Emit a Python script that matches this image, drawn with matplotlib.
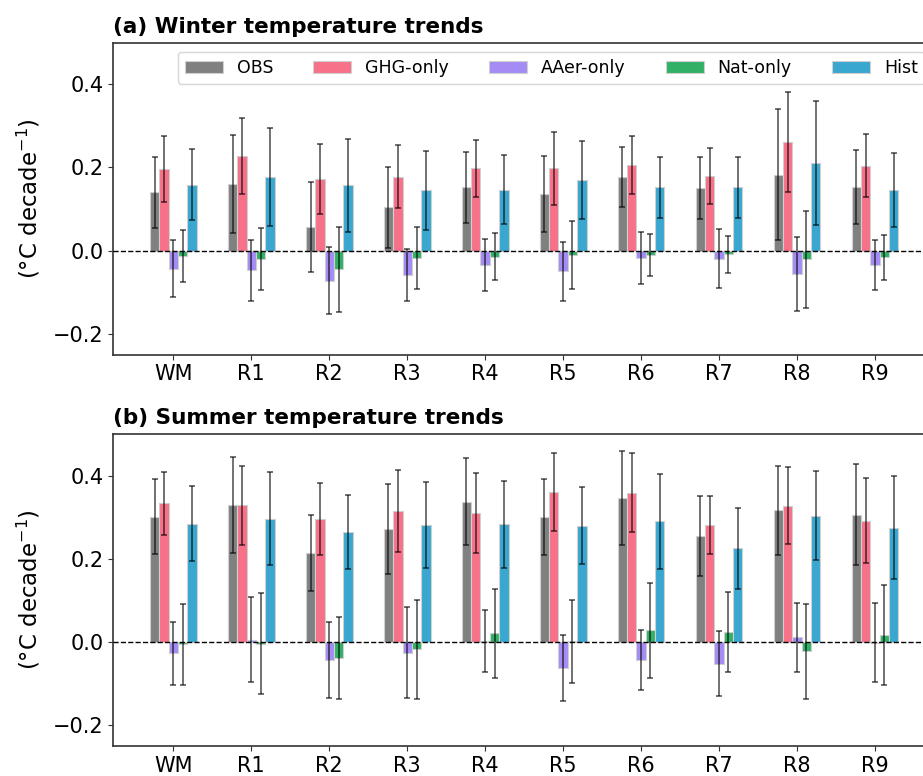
import matplotlib.pyplot as plt
import numpy as np

regions = ['WM', 'R1', 'R2', 'R3', 'R4', 'R5', 'R6', 'R7', 'R8', 'R9']
labels = ['OBS', 'GHG-only', 'AAer-only', 'Nat-only', 'Hist']
colors = ['#808080', '#f77189', '#a48cf4', '#32b166', '#39a7d0']

# winter trends (degC / decade) and half-width of error bars
win_obs = [0.140, 0.161, 0.056, 0.104, 0.152, 0.137, 0.177, 0.151, 0.183, 0.153]
win_ghg = [0.196, 0.227, 0.173, 0.178, 0.198, 0.198, 0.206, 0.179, 0.261, 0.204]
win_aer = [-0.043, -0.047, -0.072, -0.059, -0.034, -0.050, -0.018, -0.019, -0.057, -0.035]
win_nat = [-0.013, -0.020, -0.045, -0.017, -0.014, -0.010, -0.010, -0.009, -0.021, -0.016]
win_hist = [0.159, 0.177, 0.157, 0.145, 0.147, 0.169, 0.152, 0.152, 0.211, 0.146]

win_obs_err = [0.086, 0.118, 0.108, 0.097, 0.085, 0.091, 0.073, 0.075, 0.157, 0.089]
win_ghg_err = [0.079, 0.091, 0.084, 0.075, 0.068, 0.087, 0.070, 0.067, 0.120, 0.076]
win_aer_err = [0.069, 0.073, 0.080, 0.062, 0.062, 0.072, 0.062, 0.070, 0.089, 0.060]
win_nat_err = [0.063, 0.075, 0.103, 0.075, 0.056, 0.082, 0.050, 0.045, 0.117, 0.054]
win_hist_err = [0.085, 0.118, 0.111, 0.095, 0.084, 0.094, 0.074, 0.073, 0.150, 0.088]

# summer trends
sum_obs = [0.301, 0.329, 0.214, 0.272, 0.337, 0.300, 0.345, 0.255, 0.317, 0.306]
sum_ghg = [0.333, 0.329, 0.296, 0.315, 0.311, 0.361, 0.359, 0.281, 0.328, 0.292]
sum_aer = [-0.027, 0.006, -0.044, -0.026, 0.003, -0.063, -0.043, -0.052, 0.011, -0.002]
sum_nat = [-0.006, -0.004, -0.039, -0.018, 0.021, 0.002, 0.028, 0.024, -0.022, 0.017]
sum_hist = [0.284, 0.296, 0.264, 0.281, 0.283, 0.280, 0.290, 0.225, 0.304, 0.275]

sum_obs_err = [0.090, 0.116, 0.091, 0.109, 0.105, 0.092, 0.113, 0.096, 0.107, 0.122]
sum_ghg_err = [0.075, 0.095, 0.086, 0.098, 0.096, 0.094, 0.095, 0.069, 0.092, 0.103]
sum_aer_err = [0.076, 0.101, 0.091, 0.109, 0.074, 0.080, 0.073, 0.078, 0.083, 0.095]
sum_nat_err = [0.098, 0.122, 0.098, 0.120, 0.107, 0.100, 0.115, 0.097, 0.114, 0.121]
sum_hist_err = [0.090, 0.112, 0.089, 0.104, 0.104, 0.092, 0.115, 0.097, 0.106, 0.124]

winter = [win_obs, win_ghg, win_aer, win_nat, win_hist]
winter_err = [win_obs_err, win_ghg_err, win_aer_err, win_nat_err, win_hist_err]
summer = [sum_obs, sum_ghg, sum_aer, sum_nat, sum_hist]
summer_err = [sum_obs_err, sum_ghg_err, sum_aer_err, sum_nat_err, sum_hist_err]

W, H = 923, 776
fig = plt.figure(figsize=(W / 100, H / 100), dpi=100)
left = 113.3 / W
width = (935 - 113.3) / W
ax1 = fig.add_axes([left, (H - 354.7) / H, width, 312 / H])
ax2 = fig.add_axes([left, (H - 746) / H, width, 312 / H])

x = np.arange(len(regions))
bw = 0.12


def draw(ax, vals, errs, title, legend=False):
    for i in range(5):
        ax.bar(x + (i - 2) * bw, vals[i], bw, color=colors[i], edgecolor='#d0d0d0',
               linewidth=0.8, label=labels[i], zorder=2)
        ax.errorbar(x + (i - 2) * bw, vals[i], yerr=errs[i], fmt='none', ecolor='k',
                    alpha=0.65, elinewidth=1.2, capsize=2.5, capthick=1.2, zorder=3)
    ax.axhline(0, color='k', ls='--', lw=1, zorder=4)
    ax.set_xlim(-0.77, len(regions) - 0.23)
    ax.set_ylim(-0.25, 0.5)
    ax.set_yticks([-0.2, 0.0, 0.2, 0.4])
    ax.set_xticks(x)
    ax.set_xticklabels(regions)
    ax.tick_params(labelsize=15, color='#333333')
    for s in ax.spines.values():
        s.set_color('#333333')
        s.set_linewidth(1.2)
    ax.set_ylabel('(°C decade$^{-1}$)', fontsize=16.5, labelpad=7.5)
    ax.set_title(title, loc='left', fontweight='bold', fontsize=15.5, pad=7)
    if legend:
        x0 = (177.7 - 113.3) / (935 - 113.3)
        ax.legend(loc='upper left', bbox_to_anchor=(x0, 1 - 9.3 / 312), borderaxespad=0,
                  ncol=5, fontsize=12.5, handlelength=2.2, handletextpad=0.8,
                  columnspacing=2.3)


draw(ax1, winter, winter_err, '(a) Winter temperature trends', legend=True)
draw(ax2, summer, summer_err, '(b) Summer temperature trends')

fig.savefig('out.png', dpi=100)
